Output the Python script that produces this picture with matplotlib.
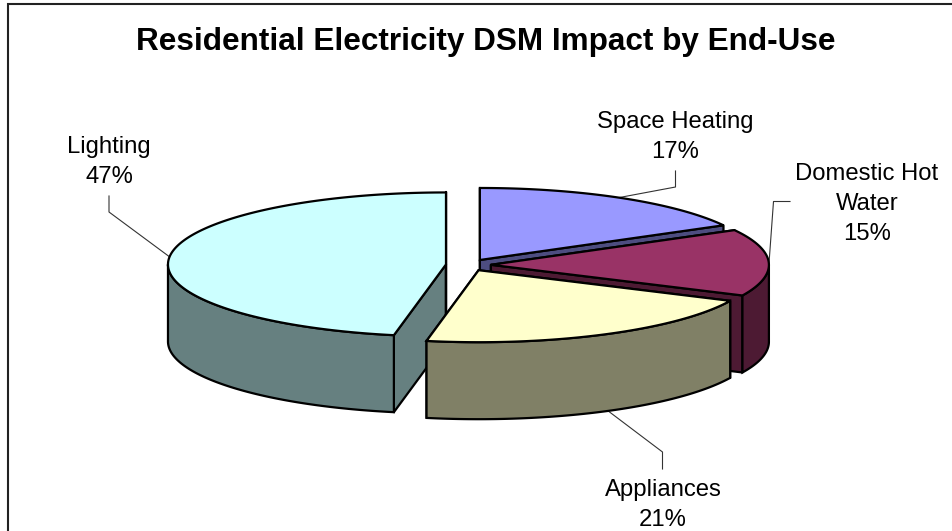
import numpy as np
import matplotlib
matplotlib.use('Agg')
import matplotlib.pyplot as plt
from matplotlib.patches import Polygon

title = 'Residential Electricity DSM Impact by End-Use'
labels = ['Space Heating', 'Domestic Hot\nWater', 'Appliances', 'Lighting']
values = [17, 15, 21, 47]
top_colors = ['#9999FF', '#993366', '#FFFFCC', '#CCFFFF']
side_colors = ['#4D4D80', '#4D1A33', '#808066', '#668080']

# pie geometry, in pixels of the 953x531 picture
cx, cy = 468.4, 265.0
rx, ry = 278.0, 72.0
depth = 77.0
explode = 0.081
edge = 1.6

# where each label sits and how its leader line bends
label_pos = [(675, 137), (867, 204), (663, 505), (109, 162)]
leader_bend = [[(675.5, 171), (675.5, 187)], [(790, 201.5), (773.5, 201.5)],
               [(662.5, 469), (662.5, 452)], [(109, 196), (109, 212)]]
leader_t = [0.49, 0.53, 0.49, 0.504]  # fraction along the rim of the slice
draw_order = [0, 1, 3, 2]  # back to front

plt.rcParams['font.family'] = ['Liberation Sans', 'DejaVu Sans']
fig = plt.figure(figsize=(9.53, 5.31), dpi=100)
ax = fig.add_axes([0, 0, 1, 1])
ax.set_xlim(0, 953)
ax.set_ylim(531, 0)
ax.axis('off')

# chart frame, runs off the picture at the right and bottom
ax.plot([8, 8, 960], [540, 3.5, 3.5], color='#222222', lw=1.5, solid_joinstyle='miter', zorder=1)


def rim(ax0, ay0, t):
    return np.column_stack([ax0 + rx * np.sin(t), ay0 - ry * np.cos(t)])


def draw_cut(apex, t, color, z):
    p = rim(apex[0], apex[1], np.array([t]))[0]
    quad = [apex, p, (p[0], p[1] + depth), (apex[0], apex[1] + depth)]
    ax.add_patch(Polygon(quad, closed=True, fc=color, ec='black', lw=edge, joinstyle='round', zorder=z))


shares = np.array(values) / sum(values) * 2 * np.pi
ends = np.cumsum(shares)
starts = ends - shares

for z, i in enumerate(draw_order):
    t0, t1 = starts[i], ends[i]
    mid = (t0 + t1) / 2
    apex = (cx + explode * rx * np.sin(mid), cy - explode * ry * np.cos(mid))
    z = z + 2
    ts = np.linspace(t0, t1, 200)

    draw_cut(apex, t0, side_colors[i], z)
    draw_cut(apex, t1, side_colors[i], z)

    # outer wall, only the part that faces the viewer
    lo, hi = max(t0, np.pi / 2), min(t1, 3 * np.pi / 2)
    if lo < hi:
        wt = np.linspace(lo, hi, 200)
        up = rim(apex[0], apex[1], wt)
        down = up[::-1] + [0, depth]
        ax.add_patch(Polygon(np.vstack([up, down]), closed=True, fc=side_colors[i], ec='black',
                             lw=edge, zorder=z))

    top = np.vstack([[apex], rim(apex[0], apex[1], ts)])
    ax.add_patch(Polygon(top, closed=True, fc=top_colors[i], ec='black', lw=edge, zorder=z))

    # leader line from the label to the rim or wall of the slice
    tl = t0 + leader_t[i] * (t1 - t0)
    end = rim(apex[0], apex[1], np.array([tl]))[0]
    if np.cos(tl) < -0.2:
        end = end + [0, depth]
    bend = leader_bend[i]
    ax.plot([bend[0][0], bend[1][0], end[0]], [bend[0][1], bend[1][1], end[1]],
            color='#333333', lw=0.8, zorder=1.5)

    ax.text(label_pos[i][0], label_pos[i][1], '%s\n%d%%' % (labels[i], values[i]),
            ha='center', va='center', fontsize=17.2, linespacing=1.5, color='black', zorder=30)

ax.text(486, 42, title, ha='center', va='center', fontsize=22.7, fontweight='bold', color='black')

fig.savefig('out.png', dpi=100)
